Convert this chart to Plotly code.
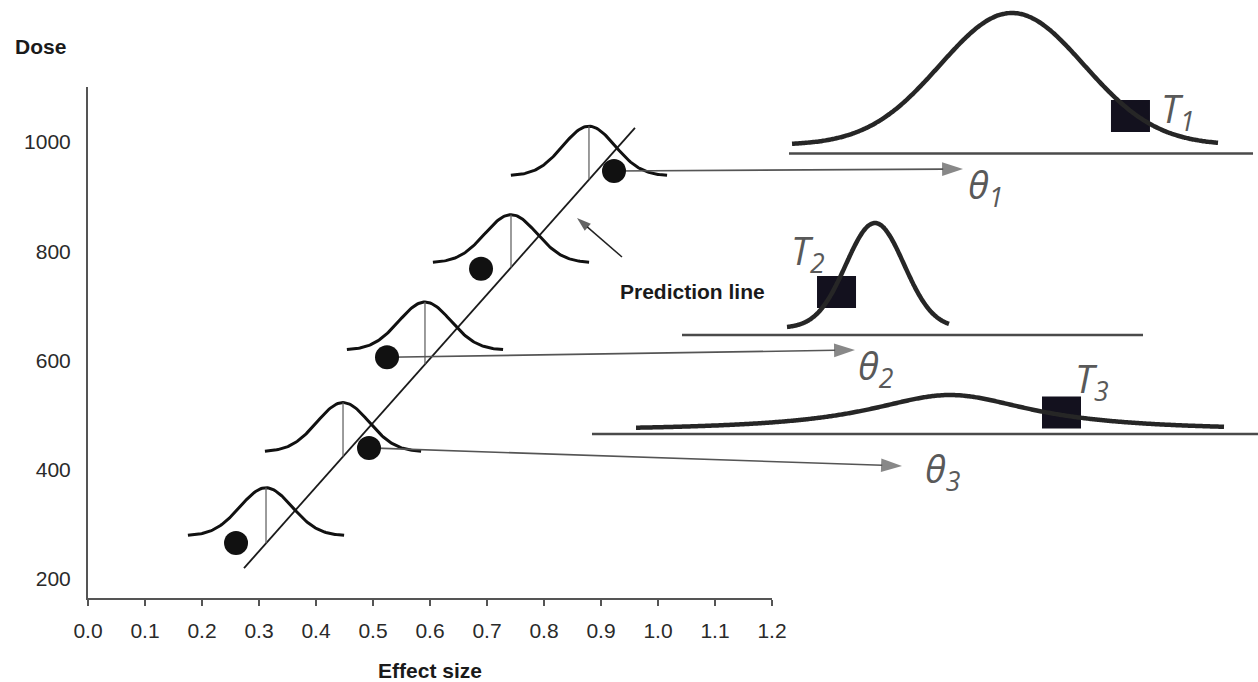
import numpy as np
import plotly.graph_objects as go

W, H = 1258, 682

# ---------------- axis ticks ----------------
x_ticks = [0.0, 0.1, 0.2, 0.3, 0.4, 0.5, 0.6, 0.7, 0.8, 0.9, 1.0, 1.1, 1.2]
x_tick_labels = ["0.0", "0.1", "0.2", "0.3", "0.4", "0.5", "0.6", "0.7", "0.8", "0.9", "1.0", "1.1", "1.2"]
y_ticks = [200, 400, 600, 800, 1000]
y_tick_labels = ["200", "400", "600", "800", "1000"]

# ---------------- prediction line (effect size, dose) ----------------
pred_x = [0.2737, 0.9596]
pred_y = [220, 1026]

# sampling distributions drawn along the prediction line
dist_mean = [0.3123, 0.4474, 0.5912, 0.7421, 0.8789]
dist_base = [279, 433, 619, 779, 938]
dist_height = [88, 90, 88, 88, 91]
dist_sd = [0.0456, 0.0456, 0.0456, 0.0456, 0.0456]
dist_half = [0.137, 0.137, 0.137, 0.137, 0.137]

# observed effects (dots)
obs_x = [0.2597, 0.4930, 0.5246, 0.6895, 0.9228]
obs_y = [266, 440, 606, 768, 947]

# ---------------- posterior panels (same units, extended to the right) ----------------
post_kind = ["normal", "normal", "cauchy"]
post_mean = [1.6211, 1.3807, 1.5123]
post_scale = [0.1263, 0.0509, 0.1754]
post_lo = [1.2351, 1.2263, 0.9614]
post_hi = [1.9825, 1.5105, 1.9930]
post_base = [994.5, 659.5, 470.9]
post_height = [241.7, 192.2, 65.9]
panel_axis_y = [979.0, 646.7, 465.4]
panel_axis_x0 = [1.2298, 1.0421, 0.8842]
panel_axis_x1 = [2.0439, 1.8509, 2.0526]
T_x = [1.8289, 1.3132, 1.7079]
T_y = [1047.6, 725.4, 504.8]
T_text = ["T<sub>1</sub>", "T<sub>2</sub>", "T<sub>3</sub>"]
T_label_x = [1.8790, 1.2290, 1.7280]
T_label_y = [1056.8, 798.6, 562.5]
theta_text = ["θ<sub>1</sub>", "θ<sub>2</sub>", "θ<sub>3</sub>"]
theta_tip_x = [1.5351, 1.3456, 1.4281]
theta_tip_y = [950.6, 619.2, 406.9]
theta_label_x = [1.5400, 1.3470, 1.4650]
theta_label_y = [919.4, 586.3, 399.5]
theta_source = [4, 2, 1]   # index of the observed effect feeding each panel

pred_label = "Prediction line"
pred_label_xy = (1.0597, 727.2)
pred_arrow_tip = (0.8579, 860.9)
pred_arrow_tail = (0.9368, 789.5)

# ---------------- layout geometry (pixels) ----------------
X0_PX = 88          # pixel column of effect size 0
X_PPU = 570.0       # pixels per unit effect size
Y200_PX = 579       # pixel row of dose 200
Y_PPU = 0.54625     # pixels per dose unit
AX_TOP_PX, AX_BOT_PX = 87, 598

x_dom = [X0_PX / W, (X0_PX + 1.2 * X_PPU) / W]
y_rng = [200 - (AX_BOT_PX - Y200_PX) / Y_PPU, 200 + (Y200_PX - AX_TOP_PX) / Y_PPU]
y_dom = [(H - AX_BOT_PX) / H, (H - AX_TOP_PX) / H]
x2_rng = [-X0_PX / X_PPU, (W - X0_PX) / X_PPU]
y2_rng = [200 - (H - Y200_PX) / Y_PPU, 200 + Y200_PX / Y_PPU]

fig = go.Figure()

# prediction line
fig.add_trace(go.Scatter(x=pred_x, y=pred_y, mode="lines",
                         line=dict(color="#1a1a1a", width=1.8), hoverinfo="skip", showlegend=False))

# sampling distributions + vertical mean lines
for m, b, h, sd, hw in zip(dist_mean, dist_base, dist_height, dist_sd, dist_half):
    xs = np.linspace(m - hw, m + hw, 121)
    ys = b + h * np.exp(-0.5 * ((xs - m) / sd) ** 2)
    fig.add_trace(go.Scatter(x=xs, y=ys, mode="lines", line=dict(color="#111111", width=3),
                             hoverinfo="skip", showlegend=False))
    y_on_line = float(np.interp(m, pred_x, pred_y))
    fig.add_trace(go.Scatter(x=[m, m], y=[b + h, y_on_line], mode="lines",
                             line=dict(color="#666666", width=1.3), hoverinfo="skip", showlegend=False))

# prediction-line pointer arrow
fig.add_trace(go.Scatter(x=[pred_arrow_tail[0], pred_arrow_tip[0]], y=[pred_arrow_tail[1], pred_arrow_tip[1]],
                         mode="lines+markers", line=dict(color="#222222", width=1.5),
                         marker=dict(symbol="arrow", angleref="previous", size=[0, 15], color="#222222",
                                     line=dict(width=0)),
                         hoverinfo="skip", showlegend=False))

# posterior panels
for k in range(3):
    xs = np.linspace(post_lo[k], post_hi[k], 241)
    z = (xs - post_mean[k]) / post_scale[k]
    if post_kind[k] == "normal":
        dens = np.exp(-0.5 * z ** 2)
    else:
        dens = 1.0 / (1.0 + z ** 2)
    ys = post_base[k] + post_height[k] * dens
    fig.add_trace(go.Scatter(x=xs, y=ys, mode="lines", xaxis="x2", yaxis="y2",
                             line=dict(color="#262626", width=4.5, shape="spline"),
                             hoverinfo="skip", showlegend=False))
    fig.add_trace(go.Scatter(x=[panel_axis_x0[k], panel_axis_x1[k]], y=[panel_axis_y[k]] * 2,
                             mode="lines", xaxis="x2", yaxis="y2",
                             line=dict(color="#4a4a4a", width=2.5), hoverinfo="skip", showlegend=False))

# arrows from observed effects to the posterior parameters
for k in range(3):
    s = theta_source[k]
    fig.add_trace(go.Scatter(x=[obs_x[s], theta_tip_x[k]], y=[obs_y[s], theta_tip_y[k]],
                             mode="lines+markers", xaxis="x2", yaxis="y2",
                             line=dict(color="#555555", width=1.6),
                             marker=dict(symbol="arrow", angleref="previous", size=[0, 22], color="#555555",
                                         line=dict(width=0)),
                             hoverinfo="skip", showlegend=False))

# observed effects (drawn on top of the arrows)
fig.add_trace(go.Scatter(x=obs_x, y=obs_y, mode="markers", xaxis="x2", yaxis="y2",
                         marker=dict(color="#111111", size=24, symbol="circle", line=dict(width=0)),
                         hoverinfo="skip", showlegend=False))

shapes = []
for k in range(3):
    shapes.append(dict(type="rect", xref="x2", yref="y2", layer="below",
                       xsizemode="pixel", ysizemode="pixel",
                       xanchor=T_x[k], yanchor=T_y[k], x0=-19.5, x1=19.5, y0=-16, y1=16,
                       fillcolor="#13111e", line=dict(width=0)))

annotations = []
label_font = dict(family="Open Sans", size=38, color="#595959", style="italic")
for k in range(3):
    annotations.append(dict(xref="x2", yref="y2", x=T_label_x[k], y=T_label_y[k], text=T_text[k],
                            showarrow=False, xanchor="left", yanchor="middle", font=label_font))
    annotations.append(dict(xref="x2", yref="y2", x=theta_label_x[k], y=theta_label_y[k], text=theta_text[k],
                            showarrow=False, xanchor="left", yanchor="middle", font=label_font))

annotations.append(dict(xref="x", yref="y", x=pred_label_xy[0], y=pred_label_xy[1], text="<b>" + pred_label + "</b>",
                        showarrow=False, xanchor="center", yanchor="middle",
                        font=dict(family="Liberation Sans", size=21, color="#1a1a1a")))
annotations.append(dict(xref="paper", yref="paper", x=40 / W, y=(H - 46) / H, text="<b>Dose</b>",
                        showarrow=False, xanchor="center", yanchor="middle",
                        font=dict(family="Liberation Sans", size=21, color="#1a1a1a")))

tick_font = dict(family="Liberation Sans", size=21, color="#2a2a2a")
fig.update_layout(
    width=W, height=H, autosize=False,
    margin=dict(l=0, r=0, t=0, b=0),
    paper_bgcolor="white", plot_bgcolor="rgba(0,0,0,0)",
    showlegend=False,
    xaxis=dict(domain=x_dom, range=[0, 1.2], tickvals=x_ticks, ticktext=x_tick_labels,
               ticks="outside", ticklen=6, tickwidth=1.5, tickcolor="#555555",
               showline=True, linecolor="#555555", linewidth=2, showgrid=False, zeroline=False,
               tickfont=tick_font, ticklabelstandoff=7, automargin=False, anchor="y",
               title=dict(text="<b>Effect size</b>", standoff=23,
                          font=dict(family="Liberation Sans", size=21, color="#1a1a1a"))),
    yaxis=dict(domain=y_dom, range=y_rng, tickvals=y_ticks, ticktext=y_tick_labels,
               ticks="", showline=True, linecolor="#555555", linewidth=2, showgrid=False, zeroline=False,
               tickfont=tick_font, ticklabelstandoff=11, automargin=False, anchor="x"),
    xaxis2=dict(domain=[0, 1], range=x2_rng, visible=False, anchor="y2", fixedrange=True),
    yaxis2=dict(domain=[0, 1], range=y2_rng, visible=False, anchor="x2", fixedrange=True),
    shapes=shapes,
    annotations=annotations,
)

fig.write_html("out.html")
